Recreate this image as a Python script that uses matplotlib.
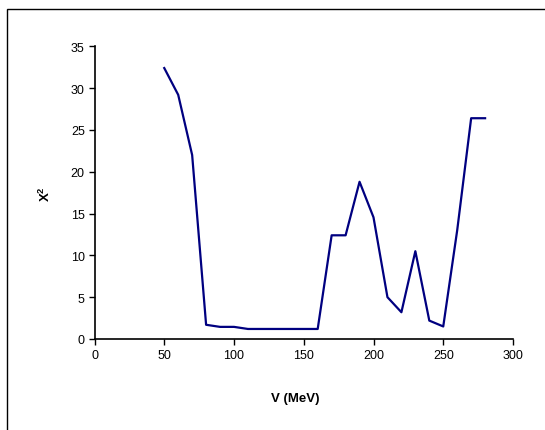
import matplotlib.pyplot as plt
from matplotlib.patches import Rectangle

plt.rcParams['font.family'] = ['Liberation Sans', 'DejaVu Sans']
plt.rcParams['mathtext.fontset'] = 'custom'
plt.rcParams['mathtext.rm'] = 'Liberation Sans:bold'
plt.rcParams['mathtext.bf'] = 'Liberation Sans:bold'

# V (MeV) vs chi^2
v_mev = [50, 60, 70, 80, 90, 100, 110, 120, 130, 140, 150, 160, 170, 180,
         190, 200, 210, 220, 230, 240, 250, 260, 270, 280]
chi2 = [32.4, 29.2, 22.0, 1.7, 1.45, 1.45, 1.2, 1.2, 1.2, 1.2, 1.2, 1.2,
        12.4, 12.4, 18.8, 14.55, 5.0, 3.2, 10.5, 2.2, 1.5, 13.0, 26.4, 26.4]

x_ticks = [0, 50, 100, 150, 200, 250, 300]
y_ticks = [0, 5, 10, 15, 20, 25, 30, 35]

W, H = 545, 431
fig = plt.figure(figsize=(W / 100, H / 100), dpi=100)
ax = fig.add_axes([94.5 / W, (H - 340) / H, 418.5 / W, 292.7 / H])

ax.plot(v_mev, chi2, color='#000080', lw=1.6)

ax.set_xlim(0, 300)
ax.set_ylim(0, 35)
ax.set_xticks(x_ticks)
ax.set_yticks(y_ticks)
ax.tick_params(direction='out', length=4, width=1, labelsize=9, pad=3)

for s in ['top', 'right']:
    ax.spines[s].set_visible(False)
for s in ['left', 'bottom']:
    ax.spines[s].set_linewidth(1.2)

ax.set_xlabel('V (MeV)', fontsize=9.5, fontweight='bold', va='center')
ax.xaxis.set_label_coords(0.479, -0.2016)
ax.set_ylabel(r'X$^{\mathbf{2}}$', fontsize=9.5, fontweight='bold', va='center')
ax.yaxis.set_label_coords(-0.117, 0.5)

# outer chart frame (cut off at right and bottom)
fig.patches.append(Rectangle((7 / W, -0.1), 1.2, (H - 10) / H + 0.1,
                             transform=fig.transFigure, fill=False,
                             edgecolor='black', lw=1.0))

fig.savefig('out.png', dpi=100, facecolor='white')
